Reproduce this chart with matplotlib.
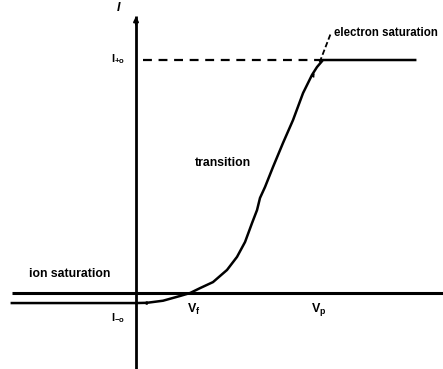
import matplotlib
matplotlib.use("Agg")
import matplotlib.pyplot as plt

plt.rcParams["mathtext.fontset"] = "custom"
plt.rcParams["mathtext.bf"] = "Liberation Sans:bold"
plt.rcParams["mathtext.rm"] = "Liberation Sans:bold"
plt.rcParams["mathtext.it"] = "Liberation Sans:bold:italic"
plt.rcParams["mathtext.default"] = "bf"

# Probe voltage / current characteristic (arbitrary units: V_f = 1, I_+0 = 1)
v_float = 1.0
v_plasma = 3.33
i_elec_sat = 1.0
i_ion_sat = -0.043

# Ion saturation branch
ion_v = [-2.30, 0.0, 0.20]
ion_i = [-0.043, -0.043, -0.042]

# Transition region
trans_v = [0.20, 0.50, 0.81, 1.0, 1.185, 1.426, 1.685, 1.870, 2.019, 2.148,
           2.241, 2.296, 2.389, 2.537, 2.722, 2.907, 3.093, 3.259, 3.352, 3.463]
trans_i = [-0.042, -0.033, -0.013, 0.0, 0.021, 0.047, 0.099, 0.155, 0.219, 0.300,
           0.356, 0.408, 0.455, 0.541, 0.644, 0.742, 0.858, 0.936, 0.970, 1.0]

# Electron saturation branch
elec_v = [3.463, 5.17]
elec_i = [1.0, 1.0]

x_min, x_max = -2.519, 5.685
y_min, y_max = -0.326, 1.2575

fig = plt.figure(figsize=(4.43, 3.69), dpi=100)
ax = fig.add_axes([0, 0, 1, 1])
ax.set_xlim(x_min, x_max)
ax.set_ylim(y_min, y_max)
ax.axis("off")

font = dict(family="Liberation Sans", fontweight="bold", color="black")

# Coordinate axes
ax.plot([-2.30, x_max], [0, 0], color="black", lw=2.2, solid_capstyle="butt")
ax.plot([0, 0], [y_min, 1.19], color="black", lw=2.0, solid_capstyle="butt")
ax.annotate("", xy=(0, 1.20), xytext=(0, 1.14),
            arrowprops=dict(arrowstyle="-|>", color="black", lw=1.5,
                            mutation_scale=7))

# Characteristic curve
curve_v = ion_v[:-1] + trans_v + elec_v[1:]
curve_i = ion_i[:-1] + trans_i + elec_i[1:]
ax.plot(curve_v, curve_i, color="black", lw=1.8, solid_joinstyle="round")

# Small direction arrowheads along the curve
ax.annotate("", xy=(0.08, ion_i[1]), xytext=(0.25, ion_i[1]),
            arrowprops=dict(arrowstyle="-|>", color="black", lw=0.8,
                            mutation_scale=5))
ax.annotate("", xy=(3.33, 0.955), xytext=(3.26, 0.925),
            arrowprops=dict(arrowstyle="-|>", color="black", lw=0.8,
                            mutation_scale=5))

# Electron saturation reference line
ax.plot([0.12, trans_v[-1]], [i_elec_sat, i_elec_sat], color="black", lw=1.6,
        ls=(0, (4, 3)))
# Leader for the electron saturation label
ax.plot([3.40, 3.60], [0.99, 1.11], color="black", lw=1.3, ls=(0, (3, 1.5)))

# Labels
ax.text(-0.32, 1.225, "I", fontsize=9, ha="center", va="center",
        family="Liberation Sans", style="italic", fontweight="bold")
ax.text(-0.20, i_elec_sat + 0.005, r"I$_{+o}$", fontsize=8, ha="right", va="center", **font)
ax.text(-0.20, i_ion_sat - 0.065, r"I$_{-o}$", fontsize=8, ha="right", va="center", **font)
ax.text(v_float + 0.06, -0.07, r"V$_{f}$", fontsize=9, ha="center", va="center", **font)
ax.text(v_plasma + 0.06, -0.07, r"V$_{p}$", fontsize=9, ha="center", va="center", **font)
ax.text(1.61, 0.558, "transition", fontsize=8.8, ha="center", va="center", **font)
ax.text(3.67, 1.118, "electron saturation", fontsize=8.3, ha="left", va="center", **font)
ax.text(-1.98, 0.082, "ion saturation", fontsize=8.8, ha="left", va="center", **font)

fig.savefig("out.png", dpi=100, facecolor="white")
